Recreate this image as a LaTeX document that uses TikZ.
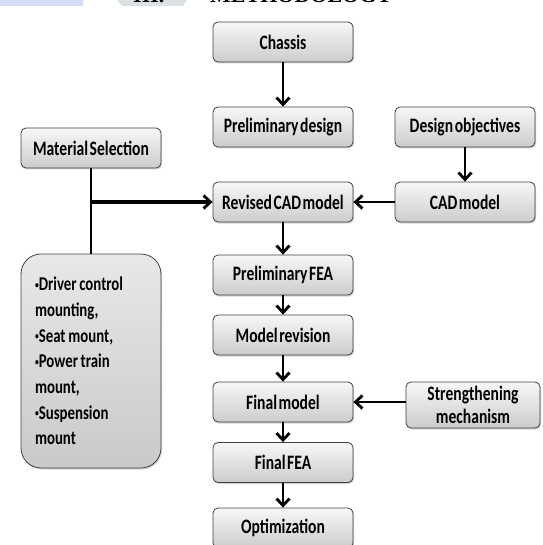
\documentclass[tikz,border=0pt]{standalone}
\usepackage{fontspec}
\setmainfont{Carlito}[FakeStretch=0.76, WordSpace=0.45]
\newfontfamily\hdfont{Liberation Serif}
\usetikzlibrary{arrows.meta,shadows}
\definecolor{wmblue}{HTML}{D6DCF4}
\definecolor{wmgray}{HTML}{DCE2E4}
\newcommand{\smbul}{\raisebox{0.28ex}{\fontsize{10}{10}\selectfont\textbullet}}
\newcommand{\nsp}{\hspace{0.14em}}
\tikzset{
  box/.style={draw=black!75, line width=0.8pt, rounded corners=5pt,
    top color=gray!6, bottom color=gray!40,
    minimum width=140pt, minimum height=40pt, inner sep=2pt,
    font=\bfseries\fontsize{20.5}{22}\selectfont, align=center,
    drop shadow={shadow xshift=1pt, shadow yshift=-1.5pt, opacity=0.35}},
  lbox/.style={box, rounded corners=20pt, minimum height=214pt,
    top color=gray!18, bottom color=gray!42,
    align=left, text width=112pt, inner xsep=14pt, inner ysep=4pt,
    font=\bfseries\fontsize{19.5}{25.7}\selectfont},
  arr/.style={line width=2.4pt, -{Straight Barb[length=7pt,width=13pt,line width=2.8pt]}},
  hd/.style={font=\hdfont\bfseries\fontsize{22}{22}\selectfont, anchor=base west, inner sep=0pt}
}
\begin{document}
\begin{tikzpicture}[x=1pt,y=-1pt]
\useasboundingbox (0,0) rectangle (542,545);
% header remnants
\fill[wmblue] (0,-5) rectangle (83,6);
\fill[wmgray] (113,-5) -- (190,-5) -- (183,6) -- (122,6) -- cycle;
\node[hd] (h1) at (133,2.5) {III.};
\node[hd] (h2) at (210,2.5) {METHODOLOGY};
% nodes
\node[box] (chassis) at (283,42) {Chassis};
\node[box] (prelim) at (283,127) {Preliminary design};
\node[box] (obj) at (465,127) {Design objectives};
\node[box] (mat) at (91,148) {Material Selection};
\node[box] (rev) at (283,202) {Revised CAD model};
\node[box] (cad) at (465,202) {CAD model};
\node[box] (pfea) at (283,275) {Preliminary FEA};
\node[box] (mrev) at (283,335) {Model revision};
\node[box] (fmod) at (283,402) {Final model};
\node[box, minimum width=134pt, minimum height=46pt, font=\bfseries\fontsize{20.5}{23}\selectfont] (str) at (473,405) {Strengthening\\mechanism};
\node[box] (ffea) at (283,462.5) {Final FEA};
\node[box] (opt) at (283,528) {Optimization};
\node[lbox] (mounts) at (91,361) {\smbul Driver\nsp control\\mounting,\\\smbul Seat\nsp mount,\\\smbul Power\nsp train\\mount,\\\smbul Suspension\\mount};
% connectors
\draw[arr] (chassis) -- (prelim);
\draw[arr] (obj) -- (cad);
\draw[arr] (cad.west) -- (rev.east);
\draw[line width=2pt] (mat.south) -- (mounts.north);
\coordinate (j) at (mat.south |- rev.west);
\draw[arr, line width=3.2pt] (j) -- (rev.west);
\draw[arr] (rev) -- (pfea);
\draw[arr] (pfea) -- (mrev);
\draw[arr] (mrev) -- (fmod);
\draw[arr] (str.west |- fmod.east) -- (fmod.east);
\draw[arr] (fmod) -- (ffea);
\draw[arr] (ffea) -- (opt);
\end{tikzpicture}
\end{document}
